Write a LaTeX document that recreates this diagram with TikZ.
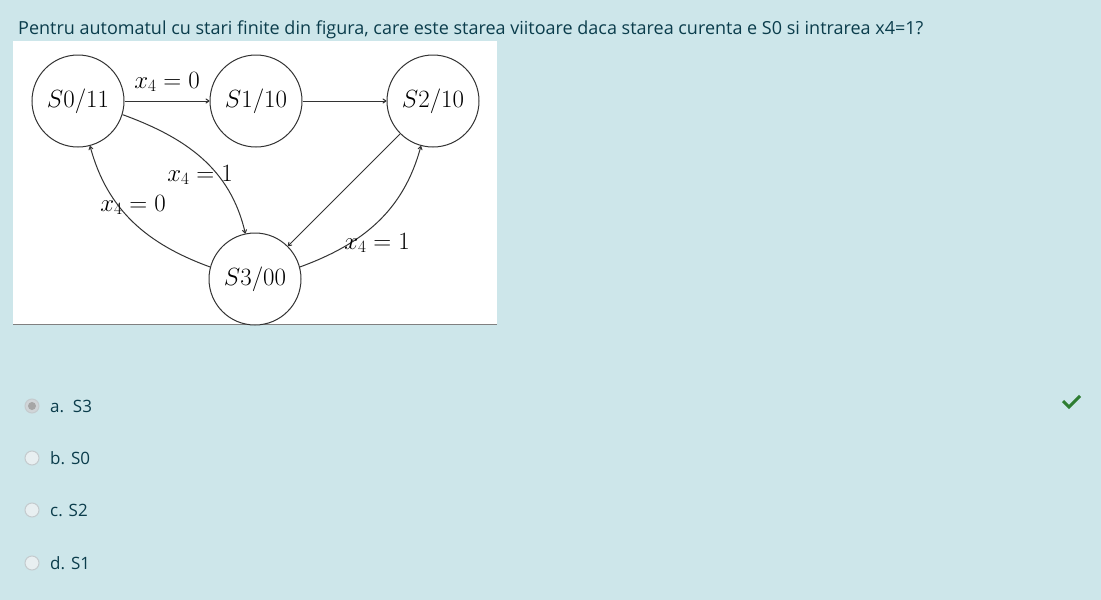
\documentclass[tikz,border=0pt]{standalone}
\usepackage{fontspec}
\setsansfont{Open Sans}
\usetikzlibrary{arrows.meta}
\definecolor{bgc}{HTML}{CDE6EA}
\definecolor{txc}{HTML}{0B3D4C}
\definecolor{lnc}{HTML}{333333}
\definecolor{okc}{HTML}{2E7D32}
\definecolor{rbd}{HTML}{C4CBCE}
\definecolor{rfl}{HTML}{E8EFF1}
\begin{document}
\begin{tikzpicture}[x=1pt,y=1pt,
  st/.style={circle,draw=lnc,line width=1pt,minimum size=92pt,inner sep=0pt,fill=white,font=\fontsize{25.5}{29}\selectfont},
  tr/.style={draw=lnc,line width=1pt,-{To[length=4pt,width=5pt]}},
  lb/.style={font=\fontsize{25.5}{29}\selectfont,inner sep=0pt},
  qt/.style={font=\sffamily\fontsize{18}{21}\selectfont,text=txc,anchor=base west,inner sep=0pt},
  ot/.style={qt,font=\sffamily\fontsize{17}{20}\selectfont},
  radio/.style={circle,draw=rbd,line width=1pt,fill=rfl,minimum size=14pt,inner sep=0pt}]
\fill[bgc] (0,0) rectangle (1101,-600);
\useasboundingbox (0,0) rectangle (1101,-600);
\node[qt] (q) at (18,-34) {Pentru automatul cu stari finite din figura, care este starea viitoare daca starea curenta e S0 si intrarea x4=1?};
\fill[white] (13,-41) rectangle (497,-324);
\draw[gray,line width=1pt] (13,-324.5) -- (497,-324.5);
\node[st] (S0) at (78,-101) {$S0/11$};
\node[st] (S1) at (256,-101) {$S1/10$};
\node[st] (S2) at (433,-101) {$S2/10$};
\node[st] (S3) at (255,-279) {$S3/00$};
\draw[tr] (S0) -- (S1);
\draw[tr] (S1) -- (S2);
\draw[tr] (S2) -- (S3);
\draw[tr] (S0.-17) to[out=-20,in=103] (S3.102);
\draw[tr] (S3.165) to[out=160,in=-75] (S0.-75);
\draw[tr] (S3.15) to[out=20,in=-105] (S2.-105);
\node[lb] (l1) at (167,-82) {$x_4=0$};
\node[lb] (l2) at (200,-175) {$x_4=1$};
\node[lb] (l3) at (133,-205) {$x_4=0$};
\node[lb] (l4) at (377,-243) {$x_4=1$};
\node[radio,fill=rbd!80!white] (ra) at (32,-406) {};
\fill[gray!70] (ra) circle (4pt);
\node[radio] (rb) at (32,-458) {};
\node[radio] (rc) at (32,-510) {};
\node[radio] (rd) at (32,-563) {};
\node[ot] (ta) at (50,-412) {a.\ \ S3};
\node[ot] (tb) at (50,-464) {b. S0};
\node[ot] (tc) at (50,-516) {c. S2};
\node[ot] (td) at (50,-569) {d. S1};
\draw[okc,line width=3pt] (1063,-401) -- (1069,-407) -- (1080,-396);
\end{tikzpicture}
\end{document}
